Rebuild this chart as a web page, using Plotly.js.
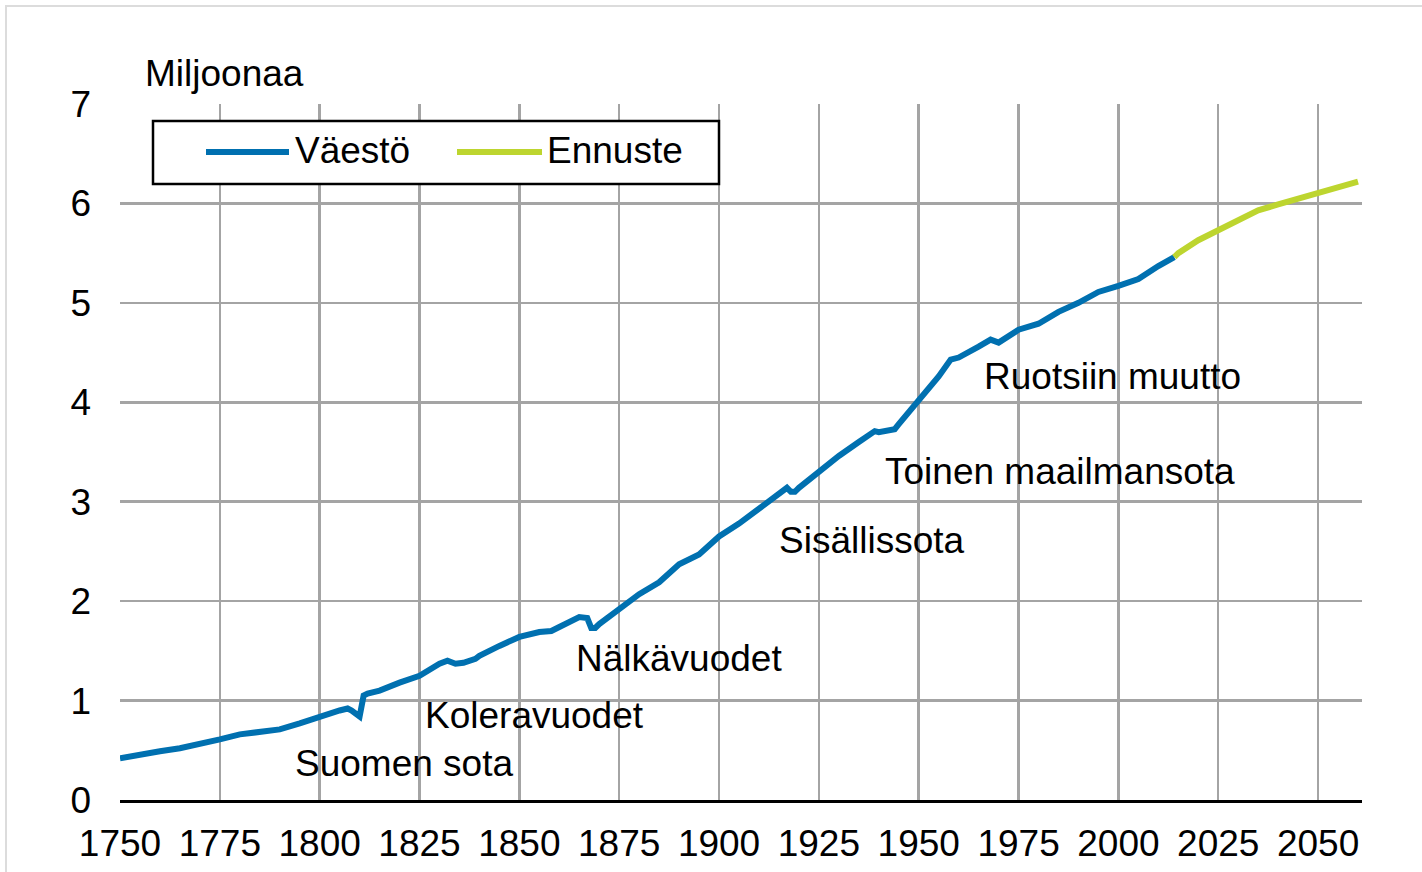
<!DOCTYPE html>
<html>
<head>
<meta charset="utf-8">
<script src="https://cdn.plot.ly/plotly-3.0.1.min.js"></script>
<style>
  html, body { margin: 0; padding: 0; background: #fff; }
  #wrap { position: relative; width: 1422px; height: 872px; }
  #chart { position: absolute; left: 0; top: 0; width: 1422px; height: 872px; }
  #frame { position: absolute; left: 5px; top: 5px; width: 1417px; height: 867px;
           border-top: 2px solid #dcdcdc; border-left: 2px solid #dcdcdc; pointer-events: none; }
</style>
</head>
<body>
<div id="wrap">
  <div id="chart"></div>
  <div id="frame"></div>
</div>
<script>
// Population of Finland (millions)
const yearsPop = [1750,1755,1760,1765,1770,1775,1780,1785,1790,1795,1800,1805,1807,1808,1810,1811,1812,1815,1820,1825,1830,1832,1834,1836,1839,1840,1845,1850,1855,1858,1860,1863,1865,1867,1868,1869,1870,1875,1880,1885,1890,1895,1900,1905,1910,1915,1917,1918,1919,1920,1925,1930,1935,1939,1940,1944,1945,1950,1955,1958,1960,1965,1968,1970,1975,1980,1985,1990,1995,2000,2005,2010,2014];
const valuesPop = [0.42,0.46,0.49,0.52,0.56,0.61,0.66,0.68,0.71,0.77,0.84,0.90,0.92,0.90,0.84,1.05,1.07,1.10,1.18,1.25,1.37,1.40,1.37,1.38,1.42,1.45,1.55,1.64,1.69,1.70,1.74,1.81,1.84,1.83,1.73,1.73,1.77,1.92,2.07,2.19,2.37,2.47,2.65,2.78,2.93,3.08,3.14,3.10,3.10,3.14,3.30,3.46,3.60,3.71,3.70,3.73,3.78,4.01,4.26,4.43,4.45,4.56,4.63,4.60,4.73,4.79,4.91,5.00,5.11,5.17,5.24,5.37,5.46];
// Forecast (Ennuste)
const yearsFc = [2014,2015,2020,2025,2030,2035,2040,2045,2050,2055,2060];
const valuesFc = [5.46,5.50,5.63,5.73,5.84,5.93,5.99,6.05,6.10,6.16,6.22];

const seriesNames = ['Väestö', 'Ennuste'];
const xTicks = [1750,1775,1800,1825,1850,1875,1900,1925,1950,1975,2000,2025,2050];
const yTicks = [0,1,2,3,4,5,6,7];
const yTitle = 'Miljoonaa';

const events = [
  {text: 'Suomen sota',         x: 1821.1, y: 0.372},
  {text: 'Koleravuodet',        x: 1853.9, y: 0.845},
  {text: 'Nälkävuodet',         x: 1890.0, y: 1.419},
  {text: 'Sisällissota',        x: 1938.3, y: 2.606},
  {text: 'Toinen maailmansota', x: 1985.4, y: 3.307},
  {text: 'Ruotsiin muutto',     x: 1998.4, y: 4.256}
];

const BLUE = '#0070b0';
const GREEN = '#bdd52f';
const FONT = 'Liberation Sans, Arial, sans-serif';
const FS = 37;

// plot area geometry (px)
const L = 120, R = 1362, T = 104, B = 800;
const W = 1422, H = 872;
const px = v => (v - L) / (R - L);
const py = v => (B - v) / (B - T);

const traces = [
  {x: yearsPop, y: valuesPop, type: 'scatter', mode: 'lines', name: seriesNames[0],
   line: {color: BLUE, width: 6}, showlegend: false, hoverinfo: 'x+y'},
  {x: yearsFc, y: valuesFc, type: 'scatter', mode: 'lines', name: seriesNames[1],
   line: {color: GREEN, width: 6}, showlegend: false, hoverinfo: 'x+y'}
];

const annotations = events.map(e => ({
  text: e.text, x: e.x, y: e.y, xref: 'x', yref: 'y',
  showarrow: false, xanchor: 'center', yanchor: 'middle',
  font: {family: FONT, size: FS, color: '#000'}
}));
annotations.push({text: yTitle, xref: 'paper', yref: 'paper', x: px(143), y: py(73),
  xanchor: 'left', yanchor: 'middle', showarrow: false,
  font: {family: FONT, size: FS, color: '#000'}});
// legend texts
annotations.push({text: seriesNames[0], xref: 'paper', yref: 'paper', x: px(293), y: py(151),
  xanchor: 'left', yanchor: 'middle', showarrow: false,
  font: {family: FONT, size: FS, color: '#000'}});
annotations.push({text: seriesNames[1], xref: 'paper', yref: 'paper', x: px(545), y: py(151),
  xanchor: 'left', yanchor: 'middle', showarrow: false,
  font: {family: FONT, size: FS, color: '#000'}});

const shapes = [
  {type: 'rect', xref: 'paper', yref: 'paper', x0: px(153), x1: px(719), y0: py(184), y1: py(121),
   line: {color: '#000', width: 2.5}, fillcolor: '#fff', layer: 'above'},
  {type: 'line', xref: 'paper', yref: 'paper', x0: px(206), x1: px(289), y0: py(152), y1: py(152),
   line: {color: BLUE, width: 6}, layer: 'above'},
  {type: 'line', xref: 'paper', yref: 'paper', x0: px(457), x1: px(542), y0: py(152), y1: py(152),
   line: {color: GREEN, width: 6}, layer: 'above'}
];

const layout = {
  width: W, height: H,
  margin: {l: L, r: W - R, t: T, b: H - B, pad: 0},
  paper_bgcolor: '#fff', plot_bgcolor: '#fff',
  showlegend: false,
  font: {family: FONT, size: FS, color: '#000'},
  xaxis: {
    range: [1750, 2061], tickvals: xTicks, ticktext: xTicks.map(String),
    showgrid: true, gridcolor: '#a4a4a4', gridwidth: 2.5,
    showline: true, linecolor: '#000', linewidth: 3,
    zeroline: false, ticks: '', ticklabelstandoff: 9,
    tickfont: {family: FONT, size: FS, color: '#000'}, fixedrange: true
  },
  yaxis: {
    range: [0, 7], tickvals: yTicks, ticktext: yTicks.map(String),
    showgrid: true, gridcolor: '#a4a4a4', gridwidth: 2.5,
    showline: false, zeroline: false, ticks: '', ticklabelstandoff: 28,
    tickfont: {family: FONT, size: FS, color: '#000'}, fixedrange: true
  },
  annotations: annotations,
  shapes: shapes
};

Plotly.newPlot('chart', traces, layout, {displayModeBar: false, staticPlot: true});
</script>
</body>
</html>
